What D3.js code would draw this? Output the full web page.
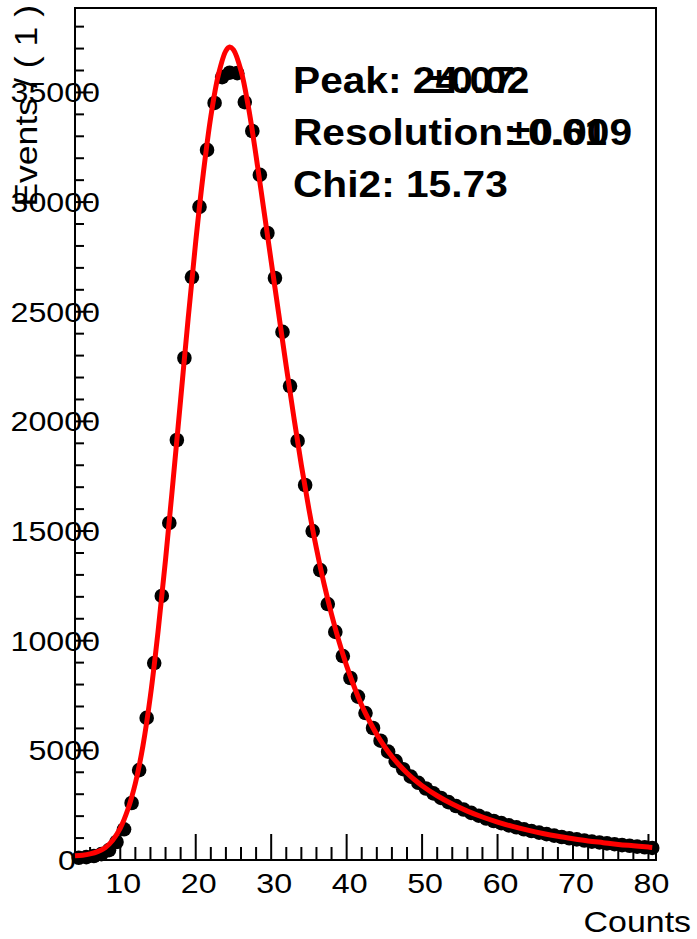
<!DOCTYPE html>
<html><head><meta charset="utf-8">
<script src="https://cdn.jsdelivr.net/npm/d3@7"></script>
<style>
html,body{margin:0;padding:0;background:#fff;}
svg{display:block;}
text{font-family:"Liberation Sans",Arial,Helvetica,sans-serif;fill:#000;}
</style></head>
<body>
<script>
// ---- data ----
const binLow = 4, binWidth = 1;
const counts = [100,130,180,270,450,820,1400,2600,4100,6480,
  8980,12040,15370,19150,22890,26580,29780,32380,34520,35700,
  35900,35880,34560,33240,31240,28590,26540,24080,21610,19110,
  17100,15000,13220,11670,10400,9300,8300,7450,6700,6020,
  5440,4940,4510,4140,3800,3520,3260,3040,2830,2640,
  2460,2300,2150,2020,1890,1780,1680,1580,1490,1400,
  1320,1250,1180,1110,1050,990,940,890,840,800,
  760,720,680,650,610,580,550];
const fitX = [4,5,6,7,8,9,10,11,12,13,14,15,16,17,18,19,20,21,22,23,24,24.5,25,26,27,28,29,30,31,32,33,34,35,36,37,38,39,40,41,42,43,44,45,46,47,48,49,50,52,54,56,58,60,62,64,66,68,70,72,74,76,78,80,80.5];
const fitY = [190,220,280,380,560,900,1450,2300,3500,5200,7500,10400,13700,17300,21000,24700,28200,31300,33900,35800,36900,37070,36950,36000,34300,32100,29700,27300,24900,22500,20200,18000,16000,14200,12600,11200,9950,8850,7900,7050,6350,5720,5180,4720,4320,3970,3660,3390,2930,2550,2230,1960,1730,1530,1360,1210,1080,970,870,790,710,650,590,575];
const xTickLabels = [10,20,30,40,50,60,70,80];
const yTickLabels = [0,5000,10000,15000,20000,25000,30000,35000];
const xTitle = "Counts";
const yTitle = "Events / ( 1 )";
const statLines = ["Peak: 24.07", "Resolution: 0.61", "Chi2: 15.73"];
const statErrors = ["\u00b10.02", "\u00b10.009", ""];

// ---- layout ----
const W = 697, H = 939;
const L = 75, R = 656, T = 8, B = 860;
const SX = 1.13;
const svg = d3.select("body").append("svg").attr("width", W).attr("height", H);
const x = d3.scaleLinear().domain([4, 81]).range([L, R]);
const y = d3.scaleLinear().domain([0, 38850]).range([B, T]);

function txt(g, px, py, s, size, anchor, weight, rot) {
  return g.append("text")
    .attr("transform", `translate(${px},${py})` + (rot ? ` rotate(${rot})` : "") + ` scale(${SX},1)`)
    .attr("font-size", size).attr("text-anchor", anchor || "start")
    .attr("font-weight", weight || "normal").text(s);
}

// frame
svg.append("rect").attr("x", L).attr("y", T).attr("width", R - L).attr("height", B - T)
  .attr("fill", "none").attr("stroke", "#000").attr("stroke-width", 2);

// x axis ticks (inward)
const gx = svg.append("g").attr("stroke", "#000").attr("stroke-width", 2);
x.ticks(40).filter(v => v >= 4 && v <= 81 && v % 2 === 0).forEach(v => {
  const major = v % 10 === 0;
  gx.append("line").attr("x1", x(v)).attr("x2", x(v)).attr("y1", B).attr("y2", B - (major ? 26 : 13));
});
// y axis ticks
const gy = svg.append("g").attr("stroke", "#000").attr("stroke-width", 2);
y.ticks(40).filter(v => v % 1000 === 0).forEach(v => {
  const major = v % 5000 === 0;
  gy.append("line").attr("x1", L).attr("x2", L + (major ? 18 : 9)).attr("y1", y(v)).attr("y2", y(v));
});

// tick labels
xTickLabels.forEach(v => txt(svg, x(v) + 3, 893, String(v), 28.5, "middle"));
yTickLabels.forEach(v => txt(svg, v === 0 ? 76 : 100, y(v) + 10, String(v), 28.5, "end"));

// titles
txt(svg, 691, 932, xTitle, 30, "end");
txt(svg, 37, 5, yTitle, 31.5, "end", "normal", -90);

// data points
const pts = counts.map((c, i) => ({ x: binLow + binWidth * (i + 0.5), y: c }));
svg.append("g").selectAll("circle").data(pts).join("circle")
  .attr("cx", d => x(d.x)).attr("cy", d => y(d.y)).attr("r", 7.3).attr("fill", "#000");

// fit curve
const fit = fitX.map((v, i) => [v, fitY[i]]);
svg.append("path").datum(fit)
  .attr("d", d3.line().x(d => x(d[0])).y(d => y(d[1])).curve(d3.curveCatmullRom.alpha(0.5)))
  .attr("fill", "none").attr("stroke", "#ff0000").attr("stroke-width", 5);

// stats text
const statY = [93, 145, 197];
const errX = [428, 508];
statLines.forEach((s, i) => txt(svg, 293, statY[i], s, 36, "start", "bold"));
statErrors.forEach((s, i) => { if (s) txt(svg, errX[i], statY[i], s, 36, "start", "bold"); });
</script>
</body></html>
